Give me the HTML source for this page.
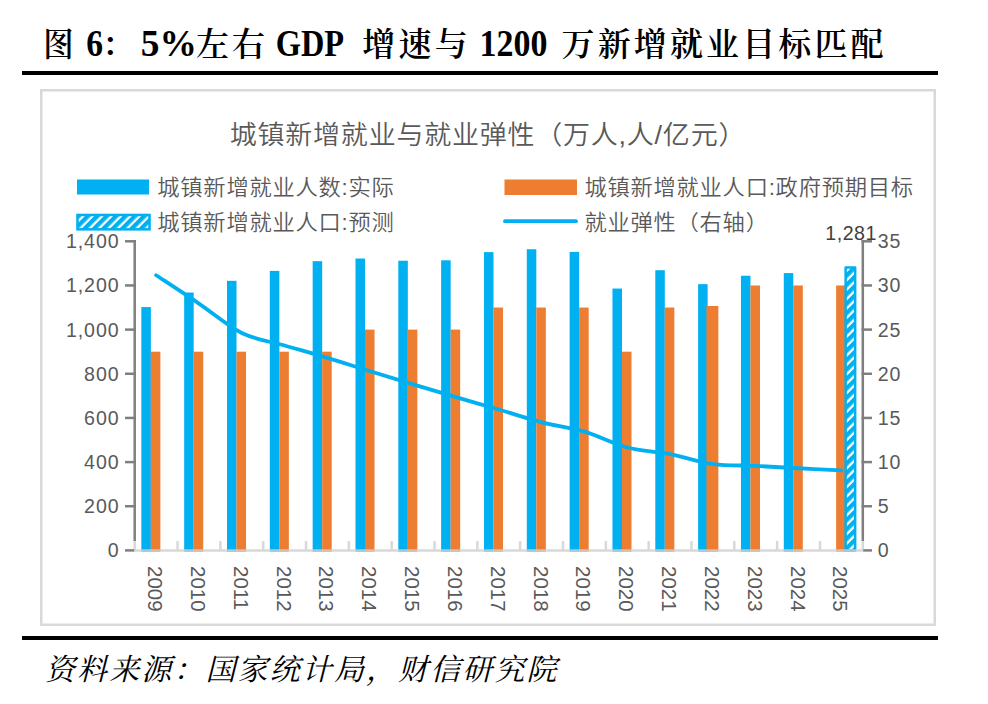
<!DOCTYPE html>
<html lang="zh-CN"><head><meta charset="utf-8"><title>图 6：5%左右 GDP 增速与 1200 万新增就业目标匹配</title>
<style>
html,body{margin:0;padding:0;background:#fff;}
body{width:988px;height:704px;overflow:hidden;position:relative;}
svg{position:absolute;left:0;top:0;display:block;}
.hd{font-family:"Liberation Serif","Noto Serif CJK SC",serif;font-weight:700;fill:#000;}
.hl{font-size:36px;font-weight:700;}
.hc{font-size:33px;font-weight:600;}
.ft{font-family:"Liberation Serif","Noto Serif CJK SC",serif;font-style:italic;font-weight:400;fill:#000;}
.ct{font-family:"Liberation Sans","Noto Sans CJK SC",sans-serif;fill:#595959;}
.nm{font-family:"Liberation Sans","Noto Sans CJK SC",sans-serif;fill:#595959;font-size:19.6px;letter-spacing:0.9px;}
.xl{font-family:"Liberation Sans","Noto Sans CJK SC",sans-serif;fill:#595959;font-size:20.5px;}
</style></head><body>
<svg width="988" height="704" viewBox="0 0 988 704">
<defs><pattern id="hatch" width="6.65" height="6.65" patternUnits="userSpaceOnUse" patternTransform="rotate(-45)"><rect width="6.65" height="6.65" fill="#fff"/><rect width="6.65" height="4.35" fill="#00B0F0"/></pattern></defs>
<rect x="0" y="0" width="988" height="704" fill="#fff"/>
<g class="hd">
<text class="hc" transform="translate(43.3,56) scale(0.92,1)">图</text>
<text class="hl" transform="translate(86.13,55.8) scale(0.933,1.05)">6</text>
<text class="hc" x="102" y="56">：</text>
<text class="hl" transform="translate(140.84,55.8) scale(1.039,1.05)">5%</text>
<text class="hc" x="196.05" y="56" letter-spacing="2.95">左右</text>
<text class="hl" transform="translate(275.7,55.8) scale(0.9,1.05)">GDP</text>
<text class="hc" x="362.2" y="56" letter-spacing="3.3">增速与</text>
<text class="hl" transform="translate(479.47,55.8) scale(0.9437,1.05)">1200</text>
<text class="hc" x="561.5" y="56" letter-spacing="3.13">万新增就业目标匹配</text>
</g>
<rect x="22" y="71" width="916" height="4" fill="#000"/>
<rect x="22" y="636" width="916" height="4" fill="#000"/>
<rect x="41.25" y="90.25" width="893.5" height="534.5" fill="#fff" stroke="#D9D9D9" stroke-width="2.5"/>
<text class="ct" transform="translate(229.8,144) scale(1,0.96)" font-size="27" font-weight="350" letter-spacing="0.78">城镇新增就业与就业弹性（万人,人/亿元）</text>
<rect x="77" y="179.5" width="72" height="15" fill="#00B0F0"/>
<rect x="504.5" y="179.5" width="72.5" height="15.5" fill="#ED7D31"/>
<rect x="77.45" y="214.95" width="72.1" height="14.4" fill="url(#hatch)" stroke="#00B0F0" stroke-width="2.5"/>
<line x1="505" y1="221.2" x2="576" y2="221.2" stroke="#00B0F0" stroke-width="3.8" stroke-linecap="round"/>
<g class="ct" font-size="22.3" font-weight="350" letter-spacing="0.75">
<text transform="translate(157.3,195.4) scale(1,0.96)">城镇新增就业人数:实际</text>
<text transform="translate(584.4,195.4) scale(1,0.96)">城镇新增就业人口:政府预期目标</text>
<text transform="translate(157.3,230.2) scale(1,0.96)">城镇新增就业人口:预测</text>
<text transform="translate(584.4,230.2) scale(1,0.96)">就业弹性（右轴）</text>
</g>
<g>
<rect x="141.34" y="307.09" width="9.52" height="244.56" fill="#00B0F0"/>
<rect x="150.86" y="351.69" width="9.52" height="199.96" fill="#ED7D31"/>
<rect x="184.17" y="292.52" width="9.52" height="259.13" fill="#00B0F0"/>
<rect x="193.69" y="351.69" width="9.52" height="199.96" fill="#ED7D31"/>
<rect x="227" y="280.82" width="9.52" height="270.83" fill="#00B0F0"/>
<rect x="236.51" y="351.69" width="9.52" height="199.96" fill="#ED7D31"/>
<rect x="269.83" y="270.89" width="9.52" height="280.76" fill="#00B0F0"/>
<rect x="279.34" y="351.69" width="9.52" height="199.96" fill="#ED7D31"/>
<rect x="312.66" y="261.17" width="9.52" height="290.48" fill="#00B0F0"/>
<rect x="322.17" y="351.69" width="9.52" height="199.96" fill="#ED7D31"/>
<rect x="355.49" y="258.52" width="9.52" height="293.13" fill="#00B0F0"/>
<rect x="365" y="329.61" width="9.52" height="222.04" fill="#ED7D31"/>
<rect x="398.31" y="260.73" width="9.52" height="290.92" fill="#00B0F0"/>
<rect x="407.83" y="329.61" width="9.52" height="222.04" fill="#ED7D31"/>
<rect x="441.14" y="260.29" width="9.52" height="291.36" fill="#00B0F0"/>
<rect x="450.66" y="329.61" width="9.52" height="222.04" fill="#ED7D31"/>
<rect x="483.97" y="252.12" width="9.52" height="299.53" fill="#00B0F0"/>
<rect x="493.49" y="307.54" width="9.52" height="244.11" fill="#ED7D31"/>
<rect x="526.8" y="249.25" width="9.52" height="302.4" fill="#00B0F0"/>
<rect x="536.32" y="307.54" width="9.52" height="244.11" fill="#ED7D31"/>
<rect x="569.63" y="251.9" width="9.52" height="299.75" fill="#00B0F0"/>
<rect x="579.15" y="307.54" width="9.52" height="244.11" fill="#ED7D31"/>
<rect x="612.46" y="288.55" width="9.52" height="263.1" fill="#00B0F0"/>
<rect x="621.98" y="351.69" width="9.52" height="199.96" fill="#ED7D31"/>
<rect x="655.29" y="270.22" width="9.52" height="281.43" fill="#00B0F0"/>
<rect x="664.81" y="307.54" width="9.52" height="244.11" fill="#ED7D31"/>
<rect x="698.12" y="284.13" width="9.52" height="267.52" fill="#00B0F0"/>
<rect x="706.44" y="305.99" width="11.92" height="245.66" fill="#ED7D31"/>
<rect x="740.95" y="275.74" width="9.52" height="275.91" fill="#00B0F0"/>
<rect x="750.47" y="285.46" width="9.52" height="266.19" fill="#ED7D31"/>
<rect x="783.78" y="273.09" width="9.52" height="278.56" fill="#00B0F0"/>
<rect x="793.3" y="285.46" width="9.52" height="266.19" fill="#ED7D31"/>
<rect x="836.13" y="285.46" width="9.52" height="266.19" fill="#ED7D31"/>
<rect x="845.64" y="267.57" width="9.52" height="282.83" fill="url(#hatch)" stroke="#00B0F0" stroke-width="2.5" stroke-linejoin="round"/>
</g>
<g stroke="#D0D0D0" stroke-width="2.5" fill="none" opacity="0.82">
<line x1="133.5" y1="550.4" x2="864" y2="550.4"/>
<line x1="134.7" y1="541.1" x2="134.7" y2="550.4"/>
<line x1="177.53" y1="541.1" x2="177.53" y2="550.4"/>
<line x1="220.36" y1="541.1" x2="220.36" y2="550.4"/>
<line x1="263.19" y1="541.1" x2="263.19" y2="550.4"/>
<line x1="306.02" y1="541.1" x2="306.02" y2="550.4"/>
<line x1="348.85" y1="541.1" x2="348.85" y2="550.4"/>
<line x1="391.68" y1="541.1" x2="391.68" y2="550.4"/>
<line x1="434.51" y1="541.1" x2="434.51" y2="550.4"/>
<line x1="477.34" y1="541.1" x2="477.34" y2="550.4"/>
<line x1="520.16" y1="541.1" x2="520.16" y2="550.4"/>
<line x1="562.99" y1="541.1" x2="562.99" y2="550.4"/>
<line x1="605.82" y1="541.1" x2="605.82" y2="550.4"/>
<line x1="648.65" y1="541.1" x2="648.65" y2="550.4"/>
<line x1="691.48" y1="541.1" x2="691.48" y2="550.4"/>
<line x1="734.31" y1="541.1" x2="734.31" y2="550.4"/>
<line x1="777.14" y1="541.1" x2="777.14" y2="550.4"/>
<line x1="819.97" y1="541.1" x2="819.97" y2="550.4"/>
<line x1="862.8" y1="541.1" x2="862.8" y2="550.4"/>
</g>
<g stroke="#7F7F7F" stroke-width="2.5" fill="none">
<line x1="134.7" y1="240.05" x2="134.7" y2="541.1"/>
<line x1="862.8" y1="240.05" x2="862.8" y2="541.1"/>
<line x1="125" y1="241.3" x2="135.95" y2="241.3"/>
<line x1="861.55" y1="241.3" x2="872" y2="241.3"/>
<line x1="125" y1="285.46" x2="135.95" y2="285.46"/>
<line x1="861.55" y1="285.46" x2="872" y2="285.46"/>
<line x1="125" y1="329.61" x2="135.95" y2="329.61"/>
<line x1="861.55" y1="329.61" x2="872" y2="329.61"/>
<line x1="125" y1="373.77" x2="135.95" y2="373.77"/>
<line x1="861.55" y1="373.77" x2="872" y2="373.77"/>
<line x1="125" y1="417.93" x2="135.95" y2="417.93"/>
<line x1="861.55" y1="417.93" x2="872" y2="417.93"/>
<line x1="125" y1="462.09" x2="135.95" y2="462.09"/>
<line x1="861.55" y1="462.09" x2="872" y2="462.09"/>
<line x1="125" y1="506.24" x2="135.95" y2="506.24"/>
<line x1="861.55" y1="506.24" x2="872" y2="506.24"/>
<line x1="125" y1="550.4" x2="134.2" y2="550.4"/>
<line x1="863.3" y1="550.4" x2="872" y2="550.4"/>
</g>
<path d="M156.11,275.21 C163.25,279.94 184.67,293.94 198.94,303.56 C213.22,313.19 227.5,325.98 241.77,332.97 C256.05,339.96 270.33,341.36 284.6,345.51 C298.88,349.66 313.16,353.58 327.43,357.87 C341.71,362.17 355.99,366.88 370.26,371.3 C384.54,375.71 398.81,380.06 413.09,384.37 C427.37,388.68 441.64,392.98 455.92,397.17 C470.2,401.37 484.47,405.34 498.75,409.54 C513.03,413.73 527.3,418.66 541.58,422.34 C555.86,426.02 570.13,427.42 584.41,431.62 C598.69,435.81 612.96,443.76 627.24,447.51 C641.51,451.27 655.79,451.38 670.07,454.14 C684.34,456.89 698.62,462.07 712.9,464.03 C727.17,465.99 741.45,465.18 755.73,465.88 C770,466.59 784.28,467.53 798.56,468.27 C812.83,469 834.25,469.96 841.39,470.3" fill="none" stroke="#00B0F0" stroke-width="3.8" stroke-linecap="round" stroke-linejoin="round"/>
<g class="nm" text-anchor="end">
<text x="119.5" y="248.2">1,400</text>
<text x="119.5" y="292.36">1,200</text>
<text x="119.5" y="336.51">1,000</text>
<text x="119.5" y="380.67">800</text>
<text x="119.5" y="424.83">600</text>
<text x="119.5" y="468.99">400</text>
<text x="119.5" y="513.14">200</text>
<text x="119.5" y="557.3">0</text>
</g>
<g class="nm">
<text x="877.8" y="248.2">35</text>
<text x="877.8" y="292.36">30</text>
<text x="877.8" y="336.51">25</text>
<text x="877.8" y="380.67">20</text>
<text x="877.8" y="424.83">15</text>
<text x="877.8" y="468.99">10</text>
<text x="877.8" y="513.14">5</text>
<text x="877.8" y="557.3">0</text>
</g>
<text class="nm" x="825.2" y="240.3" style="fill:#404040;letter-spacing:0.55px">1,281</text>
<g class="xl">
<text transform="translate(148.11,566) rotate(90)">2009</text>
<text transform="translate(190.94,566) rotate(90)">2010</text>
<text transform="translate(233.77,566) rotate(90)">2011</text>
<text transform="translate(276.6,566) rotate(90)">2012</text>
<text transform="translate(319.43,566) rotate(90)">2013</text>
<text transform="translate(362.26,566) rotate(90)">2014</text>
<text transform="translate(405.09,566) rotate(90)">2015</text>
<text transform="translate(447.92,566) rotate(90)">2016</text>
<text transform="translate(490.75,566) rotate(90)">2017</text>
<text transform="translate(533.58,566) rotate(90)">2018</text>
<text transform="translate(576.41,566) rotate(90)">2019</text>
<text transform="translate(619.24,566) rotate(90)">2020</text>
<text transform="translate(662.07,566) rotate(90)">2021</text>
<text transform="translate(704.9,566) rotate(90)">2022</text>
<text transform="translate(747.73,566) rotate(90)">2023</text>
<text transform="translate(790.56,566) rotate(90)">2024</text>
<text transform="translate(833.39,566) rotate(90)">2025</text>
</g>
<text class="ft" x="45" y="680" font-size="30" letter-spacing="2.1">资料来源：国家统计局，财信研究院</text>
</svg>
</body></html>
